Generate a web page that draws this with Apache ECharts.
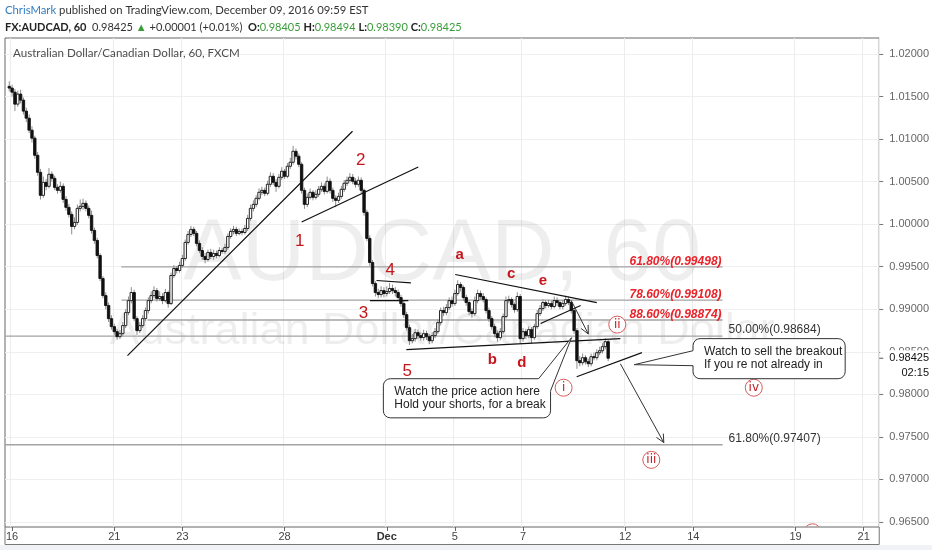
<!DOCTYPE html>
<html><head><meta charset="utf-8">
<script src="https://cdn.jsdelivr.net/npm/echarts@6/dist/echarts.min.js"></script>
<style>html,body{margin:0;padding:0;background:#fff;}#c{width:932px;height:550px;}</style>
</head><body><div id="c"></div>
<script>
// ---------- axis definitions ----------
const tradingDays = ['Nov 16','Nov 17','Nov 18','Nov 21','Nov 22','Nov 23','Nov 24','Nov 25','Nov 28','Nov 29','Nov 30','Dec 1','Dec 2','Dec 5','Dec 6','Dec 7','Dec 8','Dec 9','Dec 12','Dec 13','Dec 14','Dec 15','Dec 16','Dec 19','Dec 20','Dec 21'];
const barHours = ['00:00','02:00','04:00','06:00','08:00','10:00','12:00','14:00','16:00','18:00','20:00','22:00'];
const dayTickLabels = {'Nov 16':'16','Nov 21':'21','Nov 23':'23','Nov 28':'28','Dec 1':'Dec','Dec 5':'5','Dec 7':'7','Dec 12':'12','Dec 14':'14','Dec 19':'19','Dec 21':'21'};
const priceTicks = [0.965,0.970,0.975,0.980,0.985,0.990,0.995,1.000,1.005,1.010,1.015,1.020];
const Y_MIN = 0.964411, Y_MAX = 1.021885, N_SLOTS = 308;

// ---------- 2-hour OHLC bars (first bar = Nov 15 22:00) ----------
const opens = [
1.01620,1.01600,1.01552,1.01411,1.01529,1.01458,1.01329,1.01246,1.01105,1.01011,
1.00810,1.00610,1.00339,1.00492,1.00445,1.00587,1.00539,1.00433,1.00398,1.00445,
1.00292,1.00198,1.00115,0.99974,1.00021,1.00186,1.00210,1.00245,1.00186,1.00104,
0.99927,0.99809,0.99632,0.99362,0.99161,0.99044,0.98890,0.98796,0.98737,0.98678,
0.98714,0.98808,0.98961,0.99102,0.99197,0.98890,0.98749,0.98808,0.98890,0.98985,
0.99102,0.99161,0.99220,0.99126,0.99150,0.99102,0.99197,0.99067,0.99397,0.99479,
0.99456,0.99515,0.99597,0.99786,0.99880,0.99939,0.99892,0.99774,0.99691,0.99621,
0.99585,0.99668,0.99621,0.99656,0.99632,0.99691,0.99680,0.99727,0.99856,0.99915,
0.99939,0.99892,0.99915,0.99903,0.99950,1.00068,1.00186,1.00233,1.00304,1.00375,
1.00398,1.00363,1.00469,1.00563,1.00492,1.00445,1.00551,1.00622,1.00563,1.00681,
1.00728,1.00857,1.00799,1.00704,1.00398,1.00233,1.00316,1.00375,1.00316,1.00351,
1.00410,1.00445,1.00386,1.00504,1.00398,1.00304,1.00280,1.00327,1.00410,1.00481,
1.00516,1.00551,1.00504,1.00469,1.00516,1.00398,1.00139,0.99833,0.99550,0.99303,
0.99197,0.99173,0.99220,0.99185,0.99208,0.99244,0.99220,0.99197,0.99138,0.99067,
0.98937,0.98784,0.98631,0.98655,0.98725,0.98690,0.98667,0.98714,0.98678,0.98631,
0.98690,0.98737,0.98843,0.98985,0.98961,0.99020,0.99102,0.99067,0.99185,0.99291,
0.99256,0.99138,0.99079,0.98973,0.98949,0.99102,0.99185,0.99150,0.99114,0.98985,
0.98890,0.98796,0.98714,0.98667,0.98737,0.98914,0.99102,0.99114,0.99055,0.98996,
0.99150,0.98655,0.98737,0.98690,0.98761,0.98667,0.98796,0.98949,0.99008,0.99079,
0.99044,0.99067,0.99032,0.99102,0.99079,0.99032,0.99067,0.99114,0.99079,0.98985,
0.98749,0.98396,0.98372,0.98431,0.98384,0.98360,0.98443,0.98431,0.98490,0.98513,
0.98561,0.98619];
const closes = [
1.01600,1.01552,1.01411,1.01529,1.01458,1.01329,1.01246,1.01105,1.01011,1.00810,
1.00610,1.00339,1.00492,1.00445,1.00587,1.00539,1.00433,1.00398,1.00445,1.00292,
1.00198,1.00115,0.99974,1.00021,1.00186,1.00210,1.00245,1.00186,1.00104,0.99927,
0.99809,0.99632,0.99362,0.99161,0.99044,0.98890,0.98796,0.98737,0.98678,0.98714,
0.98808,0.98961,0.99102,0.99197,0.98890,0.98749,0.98808,0.98890,0.98985,0.99102,
0.99161,0.99220,0.99126,0.99150,0.99102,0.99197,0.99067,0.99397,0.99479,0.99456,
0.99515,0.99597,0.99786,0.99880,0.99939,0.99892,0.99774,0.99691,0.99621,0.99585,
0.99668,0.99621,0.99656,0.99632,0.99691,0.99680,0.99727,0.99856,0.99915,0.99939,
0.99892,0.99915,0.99903,0.99950,1.00068,1.00186,1.00233,1.00304,1.00375,1.00398,
1.00363,1.00469,1.00563,1.00492,1.00445,1.00551,1.00622,1.00563,1.00681,1.00728,
1.00857,1.00799,1.00704,1.00398,1.00233,1.00316,1.00375,1.00316,1.00351,1.00410,
1.00445,1.00386,1.00504,1.00398,1.00304,1.00280,1.00327,1.00410,1.00481,1.00516,
1.00551,1.00504,1.00469,1.00516,1.00398,1.00139,0.99833,0.99550,0.99303,0.99197,
0.99173,0.99220,0.99185,0.99208,0.99244,0.99220,0.99197,0.99138,0.99067,0.98937,
0.98784,0.98631,0.98655,0.98725,0.98690,0.98667,0.98714,0.98678,0.98631,0.98690,
0.98737,0.98843,0.98985,0.98961,0.99020,0.99102,0.99067,0.99185,0.99291,0.99256,
0.99138,0.99079,0.98973,0.98949,0.99102,0.99185,0.99150,0.99114,0.98985,0.98890,
0.98796,0.98714,0.98667,0.98737,0.98914,0.99102,0.99114,0.99055,0.98996,0.99150,
0.98655,0.98737,0.98690,0.98761,0.98667,0.98796,0.98949,0.99008,0.99079,0.99044,
0.99067,0.99032,0.99102,0.99079,0.99032,0.99067,0.99114,0.99079,0.98985,0.98749,
0.98396,0.98372,0.98431,0.98384,0.98360,0.98443,0.98431,0.98490,0.98513,0.98561,
0.98619,0.98425];
const highs = [
1.01680,1.01640,1.01590,1.01570,1.01580,1.01490,1.01370,1.01290,1.01150,1.01040,
1.00850,1.00650,1.00560,1.00530,1.00660,1.00620,1.00570,1.00470,1.00500,1.00480,
1.00330,1.00240,1.00150,1.00080,1.00230,1.00290,1.00300,1.00280,1.00220,1.00160,
0.99960,0.99840,0.99660,0.99390,0.99200,0.99080,0.98930,0.98830,0.98770,0.98760,
0.98850,0.99000,0.99150,0.99260,0.99230,0.98920,0.98850,0.98930,0.99020,0.99140,
0.99210,0.99270,0.99250,0.99210,0.99190,0.99240,0.99220,0.99430,0.99520,0.99510,
0.99560,0.99640,0.99820,0.99920,0.99980,0.99970,0.99920,0.99810,0.99730,0.99660,
0.99700,0.99710,0.99700,0.99690,0.99730,0.99720,0.99770,0.99890,0.99950,0.99980,
0.99970,0.99950,0.99950,0.99990,1.00110,1.00230,1.00280,1.00340,1.00420,1.00440,
1.00430,1.00510,1.00610,1.00600,1.00530,1.00590,1.00670,1.00650,1.00720,1.00780,
1.00920,1.00890,1.00830,1.00730,1.00430,1.00360,1.00420,1.00400,1.00400,1.00450,
1.00490,1.00480,1.00560,1.00540,1.00430,1.00340,1.00370,1.00450,1.00520,1.00560,
1.00600,1.00590,1.00540,1.00560,1.00550,1.00420,1.00170,0.99870,0.99580,0.99330,
0.99240,0.99270,0.99260,0.99270,0.99310,0.99290,0.99260,0.99230,0.99170,0.99100,
0.98970,0.98820,0.98710,0.98770,0.98760,0.98730,0.98760,0.98750,0.98710,0.98730,
0.98780,0.98880,0.99020,0.99030,0.99060,0.99140,0.99150,0.99230,0.99340,0.99320,
0.99280,0.99170,0.99110,0.99010,0.99150,0.99230,0.99220,0.99190,0.99140,0.99020,
0.98920,0.98830,0.98750,0.98780,0.98950,0.99150,0.99160,0.99140,0.99080,0.99200,
0.99180,0.98780,0.98770,0.98800,0.98790,0.98830,0.98990,0.99050,0.99120,0.99110,
0.99110,0.99100,0.99150,0.99140,0.99110,0.99110,0.99160,0.99150,0.99110,0.99010,
0.98780,0.98450,0.98480,0.98460,0.98420,0.98480,0.98490,0.98530,0.98560,0.98600,
0.98660,0.98640];
const lows = [
1.01560,1.01500,1.01330,1.01380,1.01420,1.01290,1.01200,1.01070,1.00960,1.00770,
1.00570,1.00290,1.00310,1.00400,1.00420,1.00500,1.00400,1.00360,1.00370,1.00250,
1.00160,1.00080,0.99880,0.99940,0.99990,1.00150,1.00170,1.00150,1.00070,0.99890,
0.99770,0.99600,0.99330,0.99130,0.99000,0.98850,0.98760,0.98700,0.98640,0.98650,
0.98690,0.98780,0.98930,0.99070,0.98860,0.98700,0.98720,0.98780,0.98860,0.98950,
0.99070,0.99130,0.99090,0.99100,0.99060,0.99080,0.99020,0.99050,0.99370,0.99420,
0.99430,0.99490,0.99570,0.99760,0.99850,0.99860,0.99740,0.99660,0.99580,0.99540,
0.99560,0.99590,0.99580,0.99600,0.99610,0.99650,0.99650,0.99700,0.99830,0.99880,
0.99860,0.99870,0.99870,0.99880,0.99920,1.00040,1.00150,1.00200,1.00280,1.00340,
1.00330,1.00340,1.00440,1.00460,1.00380,1.00420,1.00520,1.00530,1.00540,1.00650,
1.00700,1.00760,1.00670,1.00360,1.00180,1.00200,1.00290,1.00280,1.00290,1.00320,
1.00380,1.00350,1.00360,1.00360,1.00260,1.00200,1.00250,1.00300,1.00380,1.00450,
1.00490,1.00470,1.00430,1.00440,1.00360,1.00100,0.99800,0.99510,0.99270,0.99150,
0.99130,0.99140,0.99140,0.99150,0.99180,0.99180,0.99150,0.99100,0.99030,0.98900,
0.98750,0.98580,0.98600,0.98620,0.98650,0.98630,0.98630,0.98640,0.98590,0.98600,
0.98660,0.98710,0.98810,0.98920,0.98930,0.98990,0.99030,0.99040,0.99160,0.99210,
0.99100,0.99040,0.98930,0.98900,0.98920,0.99070,0.99110,0.99080,0.98950,0.98850,
0.98760,0.98670,0.98620,0.98640,0.98710,0.98890,0.99070,0.99020,0.98960,0.98970,
0.98600,0.98620,0.98650,0.98660,0.98600,0.98640,0.98770,0.98920,0.98980,0.99010,
0.99020,0.99000,0.99010,0.99040,0.99000,0.99000,0.99040,0.99050,0.98950,0.98710,
0.98300,0.98330,0.98340,0.98350,0.98320,0.98330,0.98400,0.98400,0.98460,0.98480,
0.98530,0.98390];

// ---------- drawings (slot index, price) ----------
const trendLines = [
  [[42.65,0.98455],[121.93,1.01093]],
  [[104.0,1.00025],[145.1,1.00673]],
  [[130.4,0.99338],[142.5,0.99311]],
  [[128.1,0.99102],[141.6,0.99102]],
  [[140.9,0.98525],[216.3,0.98655]],
  [[158.1,0.99409],[208.0,0.99079]],
  [[188.2,0.98832],[202.3,0.99044]],
  [[200.9,0.98207],[223.9,0.98490]]
];
const arrows = [
  [[199.0,0.99102],[205.0,0.98710]],
  [[216.3,0.98360],[231.6,0.97433]]
];
const waveLabels = [['1',103.3,0.99797],['2',124.8,1.00751],['3',125.8,0.98953],['4',135.2,0.99456],['5',141.2,0.98270]];
const letterLabels = [['a',159.7,0.99636],['b',171.2,0.98404],['c',177.8,0.99417],['d',181.6,0.98376],['e',189.0,0.99339]];
const circleLabels = [['i',196.3,0.98078],['ii',215.2,0.98820],['iii',227.2,0.97230],['iv',263.3,0.98078]];
const partialCircle = [284.0,0.96379];
const fibRedLevels = [['61.80%',0.99498,40.5],['78.60%',0.99108,40.5],['88.60%',0.98874,49.7]];
const fibBlackLevels = [['50.00%',0.98684],['61.80%',0.97407]];
const fibEndSlot = 252.3;
const callouts = [
  {lines:['Watch the price action here','Hold your shorts, for a break'], box:[[132.8,0.98184],[191.7,0.97724]], tip:[199.1,0.98667], base:[[187.5,0.98184],[191.7,0.98042]]},
  {lines:['Watch to sell the breakout','If you re not already in'], box:[[241.9,0.98655],[295.5,0.98184]], tip:[221.2,0.98349], base:[[241.9,0.98513],[241.9,0.98337]]}
];
const lastPrice = 0.98425, barCountdown = '02:15';

// ---------- build ----------
const categories = ['Nov 15 20:00','Nov 15 22:00'];
tradingDays.forEach(d => barHours.forEach(h => categories.push(d + ' ' + h)));
categories.length = N_SLOTS;
const candles = closes.map((c, i) => [i + 1, opens[i], c, lows[i], highs[i]]);

function isDayTick(idx, val) {
  return typeof val === 'string' && val.endsWith(' 00:00') && (val.slice(0, -6) in dayTickLabels);
}

function renderCandle(params, api) {
  const x = api.value(0), o = api.value(1), c = api.value(2), l = api.value(3), h = api.value(4);
  const pO = api.coord([x, o]), pC = api.coord([x, c]), pL = api.coord([x, l]), pH = api.coord([x, h]);
  const bw = api.size([1, 0])[0] * 0.85;
  const top = Math.min(pO[1], pC[1]), bot = Math.max(pO[1], pC[1]);
  const up = c >= o;
  return {type: 'group', children: [
    {type: 'line', shape: {x1: pH[0], y1: pH[1], x2: pL[0], y2: pL[1]}, style: {stroke: '#8c8c8c', lineWidth: 1}},
    {type: 'rect', shape: {x: pO[0] - bw / 2, y: top, width: bw, height: Math.max(bot - top, 1)},
     style: {fill: up ? '#ffffff' : '#111111', stroke: '#111111', lineWidth: 0.9}}
  ]};
}

const chart = echarts.init(document.getElementById('c'));
chart.setOption({
  animation: false,
  grid: {left: 5, right: 49, top: 38, bottom: 23, show: true, borderColor: '#666', borderWidth: 1, backgroundColor: 'transparent'},
  xAxis: {
    type: 'category', data: categories, boundaryGap: true,
    axisLine: {show: false},
    axisTick: {show: true, interval: isDayTick, alignWithLabel: true, length: 4, lineStyle: {color: '#666'}},
    axisLabel: {interval: isDayTick, color: '#444', fontSize: 11, fontFamily: 'Liberation Sans', margin: 4,
      formatter: v => { const t = dayTickLabels[v.slice(0, -6)]; return t === 'Dec' ? '{b|Dec}' : t; },
      rich: {b: {fontWeight: 'bold', fontSize: 11, color: '#333', fontFamily: 'Liberation Sans'}}},
    splitLine: {show: true, interval: isDayTick, lineStyle: {color: '#ececec', width: 1}}
  },
  yAxis: {
    type: 'value', position: 'right', min: Y_MIN, max: Y_MAX, scale: true,
    axisLine: {show: false},
    axisTick: {show: true, customValues: priceTicks, length: 4, lineStyle: {color: '#777'}},
    axisLabel: {customValues: priceTicks, formatter: v => v.toFixed(5), color: '#666', fontSize: 11, fontFamily: 'Liberation Sans', margin: 10},
    splitLine: {show: true, lineStyle: {color: '#efefef', width: 1}}
  },
  series: [{type: 'custom', renderItem: renderCandle, data: candles, encode: {x: 0, y: [1, 2, 3, 4]}, clip: true, z: 3}]
});

function P(s, p) {
  const a = Math.min(Math.max(Math.floor(s), 0), N_SLOTS - 2), f = s - a;
  const p0 = chart.convertToPixel({gridIndex: 0}, [a, p]);
  const p1 = chart.convertToPixel({gridIndex: 0}, [a + 1, p]);
  return [p0[0] + (p1[0] - p0[0]) * f, p0[1]];
}
function txt(x, y, text, o) {
  return Object.assign({type: 'text', x: x, y: y, style: Object.assign({text: text, fill: '#333', fontSize: 12, fontFamily: 'Liberation Sans',
    align: 'left', textAlign: 'left', verticalAlign: 'middle', textVerticalAlign: 'middle'}, o || {})}, {z: 40});
}

const g = [];
const RED = '#c4161c';
// header
g.push({type: 'text', x: 5, y: 10, z: 50, style: {text: '{a|ChrisMark}{b| published on TradingView.com, December 09, 2016 09:59 EST}',
  verticalAlign: 'middle', textVerticalAlign: 'middle',
  rich: {a: {fill: '#2f7dc2', color: '#2f7dc2', fontSize: 11.3, fontFamily: 'Lato'}, b: {fill: '#333', color: '#333', fontSize: 11.3, fontFamily: 'Lato'}}}});
g.push({type: 'text', x: 5, y: 27, z: 50, style: {
  text: '{k|FX:AUDCAD, 60}{n|  0.98425 }{g|▲}{n| +0.00001 (+0.01%)  }{k|O:}{g|0.98405}{n| }{k|H:}{g|0.98494}{n| }{k|L:}{g|0.98390}{n| }{k|C:}{g|0.98425}',
  verticalAlign: 'middle', textVerticalAlign: 'middle',
  rich: {k: {fill: '#222', color: '#222', fontWeight: 'bold', fontSize: 11, fontFamily: 'Lato'},
         n: {fill: '#333', color: '#333', fontSize: 11, fontFamily: 'Lato'},
         g: {fill: '#3a9d3a', color: '#3a9d3a', fontSize: 11, fontFamily: 'Lato'}}}});

const tl = P(-0.5, Y_MAX), br = P(N_SLOTS - 0.5, Y_MIN);
const W = br[0] - tl[0], H = br[1] - tl[1];
g.push(txt(tl[0] + 8, tl[1] + 15, 'Australian Dollar/Canadian Dollar, 60, FXCM', {fill: '#4d4d4d', fontSize: 11.6, fontFamily: 'Lato'}));
// watermark
g.push({type: 'text', x: tl[0] + W * 0.5, y: tl[1] + H * 0.445, z: 1, style: {text: 'AUDCAD, 60', fill: 'rgba(0,0,0,0.065)', fontSize: 88, fontFamily: 'Liberation Sans',
  align: 'center', textAlign: 'center', verticalAlign: 'middle', textVerticalAlign: 'middle'}});
g.push({type: 'text', x: tl[0] + W * 0.5, y: tl[1] + H * 0.6, z: 1, style: {text: 'Australian Dollar/Canadian Dollar', fill: 'rgba(0,0,0,0.065)', fontSize: 45, fontFamily: 'Liberation Sans',
  align: 'center', textAlign: 'center', verticalAlign: 'middle', textVerticalAlign: 'middle'}});

// fib levels
fibRedLevels.forEach(([pct, v, s0]) => {
  const a = P(s0, v), b = P(fibEndSlot, v);
  g.push({type: 'line', z: 2, shape: {x1: a[0], y1: a[1], x2: b[0], y2: b[1]}, style: {stroke: '#a3a3a3', lineWidth: 1.4}});
  g.push(txt(b[0] - 1, a[1] + 1, pct + '(' + v.toFixed(5) + ')', {fill: '#e8232a', fontSize: 12, fontWeight: 'bold', fontStyle: 'italic',
    align: 'right', textAlign: 'right', verticalAlign: 'bottom', textVerticalAlign: 'bottom'}));
});
fibBlackLevels.forEach(([pct, v]) => {
  const a = P(-0.5, v), b = P(fibEndSlot, v);
  g.push({type: 'line', z: 2, shape: {x1: a[0], y1: a[1], x2: b[0], y2: b[1]}, style: {stroke: '#a3a3a3', lineWidth: 1.4}});
  g.push(txt(b[0] + 6, a[1] - 6, pct + '(' + v.toFixed(5) + ')', {fill: '#333', fontSize: 12}));
});
// trend lines
trendLines.forEach(([p, q]) => {
  const a = P(p[0], p[1]), b = P(q[0], q[1]);
  g.push({type: 'line', z: 10, shape: {x1: a[0], y1: a[1], x2: b[0], y2: b[1]}, style: {stroke: '#111', lineWidth: 1.2}});
});
// arrows
arrows.forEach(([p, q]) => {
  const a = P(p[0], p[1]), b = P(q[0], q[1]);
  const ang = Math.atan2(b[1] - a[1], b[0] - a[0]), L = 9;
  const h1 = [b[0] - L * Math.cos(ang - 0.45), b[1] - L * Math.sin(ang - 0.45)];
  const h2 = [b[0] - L * Math.cos(ang + 0.45), b[1] - L * Math.sin(ang + 0.45)];
  g.push({type: 'line', z: 10, shape: {x1: a[0], y1: a[1], x2: b[0], y2: b[1]}, style: {stroke: '#333', lineWidth: 1}});
  g.push({type: 'polyline', z: 10, shape: {points: [h1, b, h2]}, style: {stroke: '#333', lineWidth: 1, fill: null}});
});
// wave labels
waveLabels.forEach(([t, s, v]) => { const a = P(s, v); g.push(txt(a[0], a[1], t, {fill: RED, fontSize: 17, align: 'center', textAlign: 'center'})); });
letterLabels.forEach(([t, s, v]) => { const a = P(s, v); g.push(txt(a[0], a[1], t, {fill: RED, fontSize: 15, fontWeight: 'bold', align: 'center', textAlign: 'center'})); });
circleLabels.forEach(([t, s, v]) => {
  const a = P(s, v);
  g.push({type: 'circle', z: 20, shape: {cx: a[0], cy: a[1], r: 8.5}, style: {fill: '#fff', stroke: '#d65a5a', lineWidth: 1}});
  g.push(txt(a[0], a[1], t, {fill: RED, fontSize: 12, fontFamily: 'DejaVu Sans', align: 'center', textAlign: 'center'}));
});
(function () {
  const a = P(partialCircle[0], partialCircle[1]);
  g.push({type: 'arc', z: 20, shape: {cx: a[0], cy: a[1], r: 8.5, startAngle: Math.PI + 0.75, endAngle: 2 * Math.PI - 0.75}, style: {stroke: '#d65a5a', lineWidth: 1, fill: null}});
})();
// callouts
callouts.forEach(co => {
  const a = P(co.box[0][0], co.box[0][1]), b = P(co.box[1][0], co.box[1][1]);
  const t = P(co.tip[0], co.tip[1]), b1 = P(co.base[0][0], co.base[0][1]), b2 = P(co.base[1][0], co.base[1][1]);
  g.push({type: 'rect', z: 30, shape: {x: a[0], y: a[1], width: b[0] - a[0], height: b[1] - a[1], r: 7}, style: {fill: '#fff', stroke: '#333', lineWidth: 1}});
  const push = (p) => { const dx = p[0] - t[0], dy = p[1] - t[1], d = Math.hypot(dx, dy); return [p[0] + dx / d * 1.6, p[1] + dy / d * 1.6]; };
  g.push({type: 'polygon', z: 31, shape: {points: [push(b1), t, push(b2)]}, style: {fill: '#fff', stroke: null}});
  g.push({type: 'polyline', z: 32, shape: {points: [b1, t, b2]}, style: {stroke: '#333', lineWidth: 1, fill: null}});
  const cy = (a[1] + b[1]) / 2;
  g.push(Object.assign(txt(a[0] + 11, cy - 6.5, co.lines[0], {fill: '#222', fontSize: 12}), {z: 33}));
  g.push(Object.assign(txt(a[0] + 11, cy + 6.5, co.lines[1], {fill: '#222', fontSize: 12}), {z: 33}));
});
// last price tag on the price scale
(function () {
  const p = P(0, lastPrice);
  g.push({type: 'rect', z: 60, shape: {x: br[0] + 1, y: p[1] - 8, width: 932 - br[0] - 1, height: 31}, style: {fill: '#fff'}});
  g.push({type: 'line', z: 61, shape: {x1: br[0], y1: p[1], x2: br[0] + 4, y2: p[1]}, style: {stroke: '#555', lineWidth: 1}});
  g.push(Object.assign(txt(br[0] + 10, p[1], lastPrice.toFixed(5), {fill: '#111', fontSize: 11}), {z: 62}));
  g.push(Object.assign(txt(929, p[1] + 15, barCountdown, {fill: '#111', fontSize: 11, align: 'right', textAlign: 'right'}), {z: 62}));
})();
// time-scale frame and outer margin
g.push({type: 'polyline', z: 5, shape: {points: [[tl[0], br[1]], [tl[0], 544.5], [br[0], 544.5], [br[0], br[1]]]}, style: {stroke: '#777', lineWidth: 1, fill: null}});
g.push({type: 'rect', z: 5, shape: {x: 0, y: 545, width: 932, height: 5}, style: {fill: '#f0f2f5'}});

chart.setOption({graphic: {elements: g}});
</script></body></html>
